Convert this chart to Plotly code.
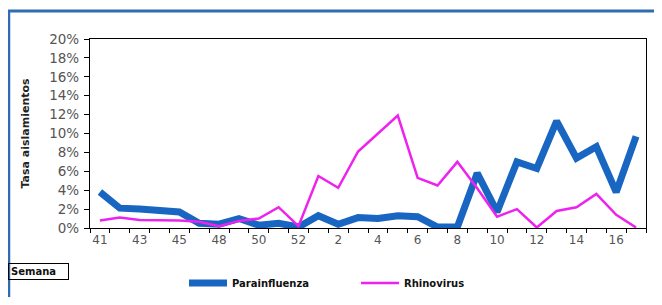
import plotly.graph_objects as go

weeks = ["41", "42", "43", "44", "45", "47", "48", "49", "50", "51", "52",
         "1", "2", "3", "4", "5", "6", "7", "8", "9", "10", "11", "12", "13",
         "14", "15", "16", "17"]
parainfluenza = [3.8, 2.1, 2.0, 1.9, 1.7, 0.5, 0.4, 1.0, 0.3, 0.5, 0.1,
                 1.3, 0.4, 1.1, 1.0, 1.3, 1.2, 0.1, 0.1, 5.8, 1.7, 7.0, 6.3, 11.3,
                 7.4, 8.6, 3.8, 9.7]
rhinovirus = [0.8, 1.1, 0.85, 0.85, 0.8, 0.65, 0.2, 0.75, 1.0, 2.2, 0.2,
              5.5, 4.25, 8.1, 10.0, 11.9, 5.3, 4.5, 7.0, 4.2, 1.2, 2.0, 0.05, 1.8,
              2.2, 3.6, 1.4, 0.05]
tick_text = [w if i % 2 == 0 else "" for i, w in enumerate(weeks)]

# The page body has an 8px margin, so the figure is placed at (8, 8)
OFF = 8
W, H = 662 - OFF, 305 - 2 * OFF
PLOT_L, PLOT_R, PLOT_T, PLOT_B = 90, 646, 39, 228  # page pixels
ML, MR = PLOT_L - OFF, W - (PLOT_R - OFF)
MT, MB = PLOT_T - OFF, H - (PLOT_B - OFF)
PW, PH = W - ML - MR, H - MT - MB

def px_x(x):
    return (x - PLOT_L) / PW

def px_y(y):
    return (PLOT_B - y) / PH

fig = go.Figure()
fig.add_trace(go.Scatter(x=weeks, y=parainfluenza, mode="lines", name="Parainfluenza",
                         line=dict(color="#1866C2", width=7)))
fig.add_trace(go.Scatter(x=weeks, y=rhinovirus, mode="lines", name="Rhinovirus",
                         line=dict(color="#EE22EE", width=2.5)))

tick_font = "DejaVu Sans, Verdana, sans-serif"
bold_font = "DejaVu Sans, Verdana, sans-serif"

fig.update_layout(
    width=W, height=H,
    margin=dict(l=ML, r=MR, t=MT, b=MB, autoexpand=False),
    paper_bgcolor="white", plot_bgcolor="white",
    font=dict(family=tick_font, size=12, color="#404040"),
    showlegend=True,
    legend=dict(orientation="h", x=px_x(184), xanchor="left",
                y=px_y(283), yanchor="middle",
                font=dict(size=10, color="#111111", family=bold_font, weight="bold"),
                itemwidth=38,
                entrywidth=119, entrywidthmode="pixels",
                bgcolor="rgba(0,0,0,0)"),
    xaxis=dict(type="category", categoryorder="array", categoryarray=weeks,
               range=[-0.5, len(weeks) - 0.5], automargin=False,
               tickmode="array", tickvals=weeks, ticktext=tick_text, tickangle=0,
               tickson="boundaries", ticks="outside", ticklen=4, tickcolor="black",
               showline=True, linecolor="black", linewidth=1.2, mirror=True,
               showgrid=False, zeroline=False,
               tickfont=dict(size=12, color="#555555", family=tick_font)),
    yaxis=dict(range=[0, 20], dtick=2, ticksuffix="%", automargin=False,
               ticks="outside", ticklen=5, tickcolor="black",
               ticklabelstandoff=2,
               showline=True, linecolor="black", linewidth=1.2, mirror=True,
               showgrid=False, zeroline=False,
               tickfont=dict(size=13.5, color="#555555", family=tick_font)),
)

fig.add_annotation(text="<b>Tasa aislamientos</b>", textangle=-90,
                   xref="paper", yref="paper", x=px_x(25), y=0.5,
                   xanchor="center", yanchor="middle", showarrow=False,
                   font=dict(size=11, color="#222222", family=bold_font))

fig.add_annotation(text="<b>Semana</b>", xref="paper", yref="paper",
                   x=px_x(8), y=px_y(271), xanchor="left", yanchor="middle",
                   showarrow=False, width=55, align="left",
                   bordercolor="black", borderwidth=1, borderpad=2,
                   font=dict(size=10, color="#111111", family=bold_font))

# outer blue frame (left and top edges visible)
fig.add_shape(type="line", xref="paper", yref="paper",
              x0=px_x(9), x1=px_x(9), y0=px_y(11), y1=px_y(330),
              line=dict(color="#2E6DB0", width=2.5))
fig.add_shape(type="line", xref="paper", yref="paper",
              x0=px_x(8), x1=px_x(700), y0=px_y(11), y1=px_y(11),
              line=dict(color="#2E6DB0", width=3))

fig.write_html("out.html")
